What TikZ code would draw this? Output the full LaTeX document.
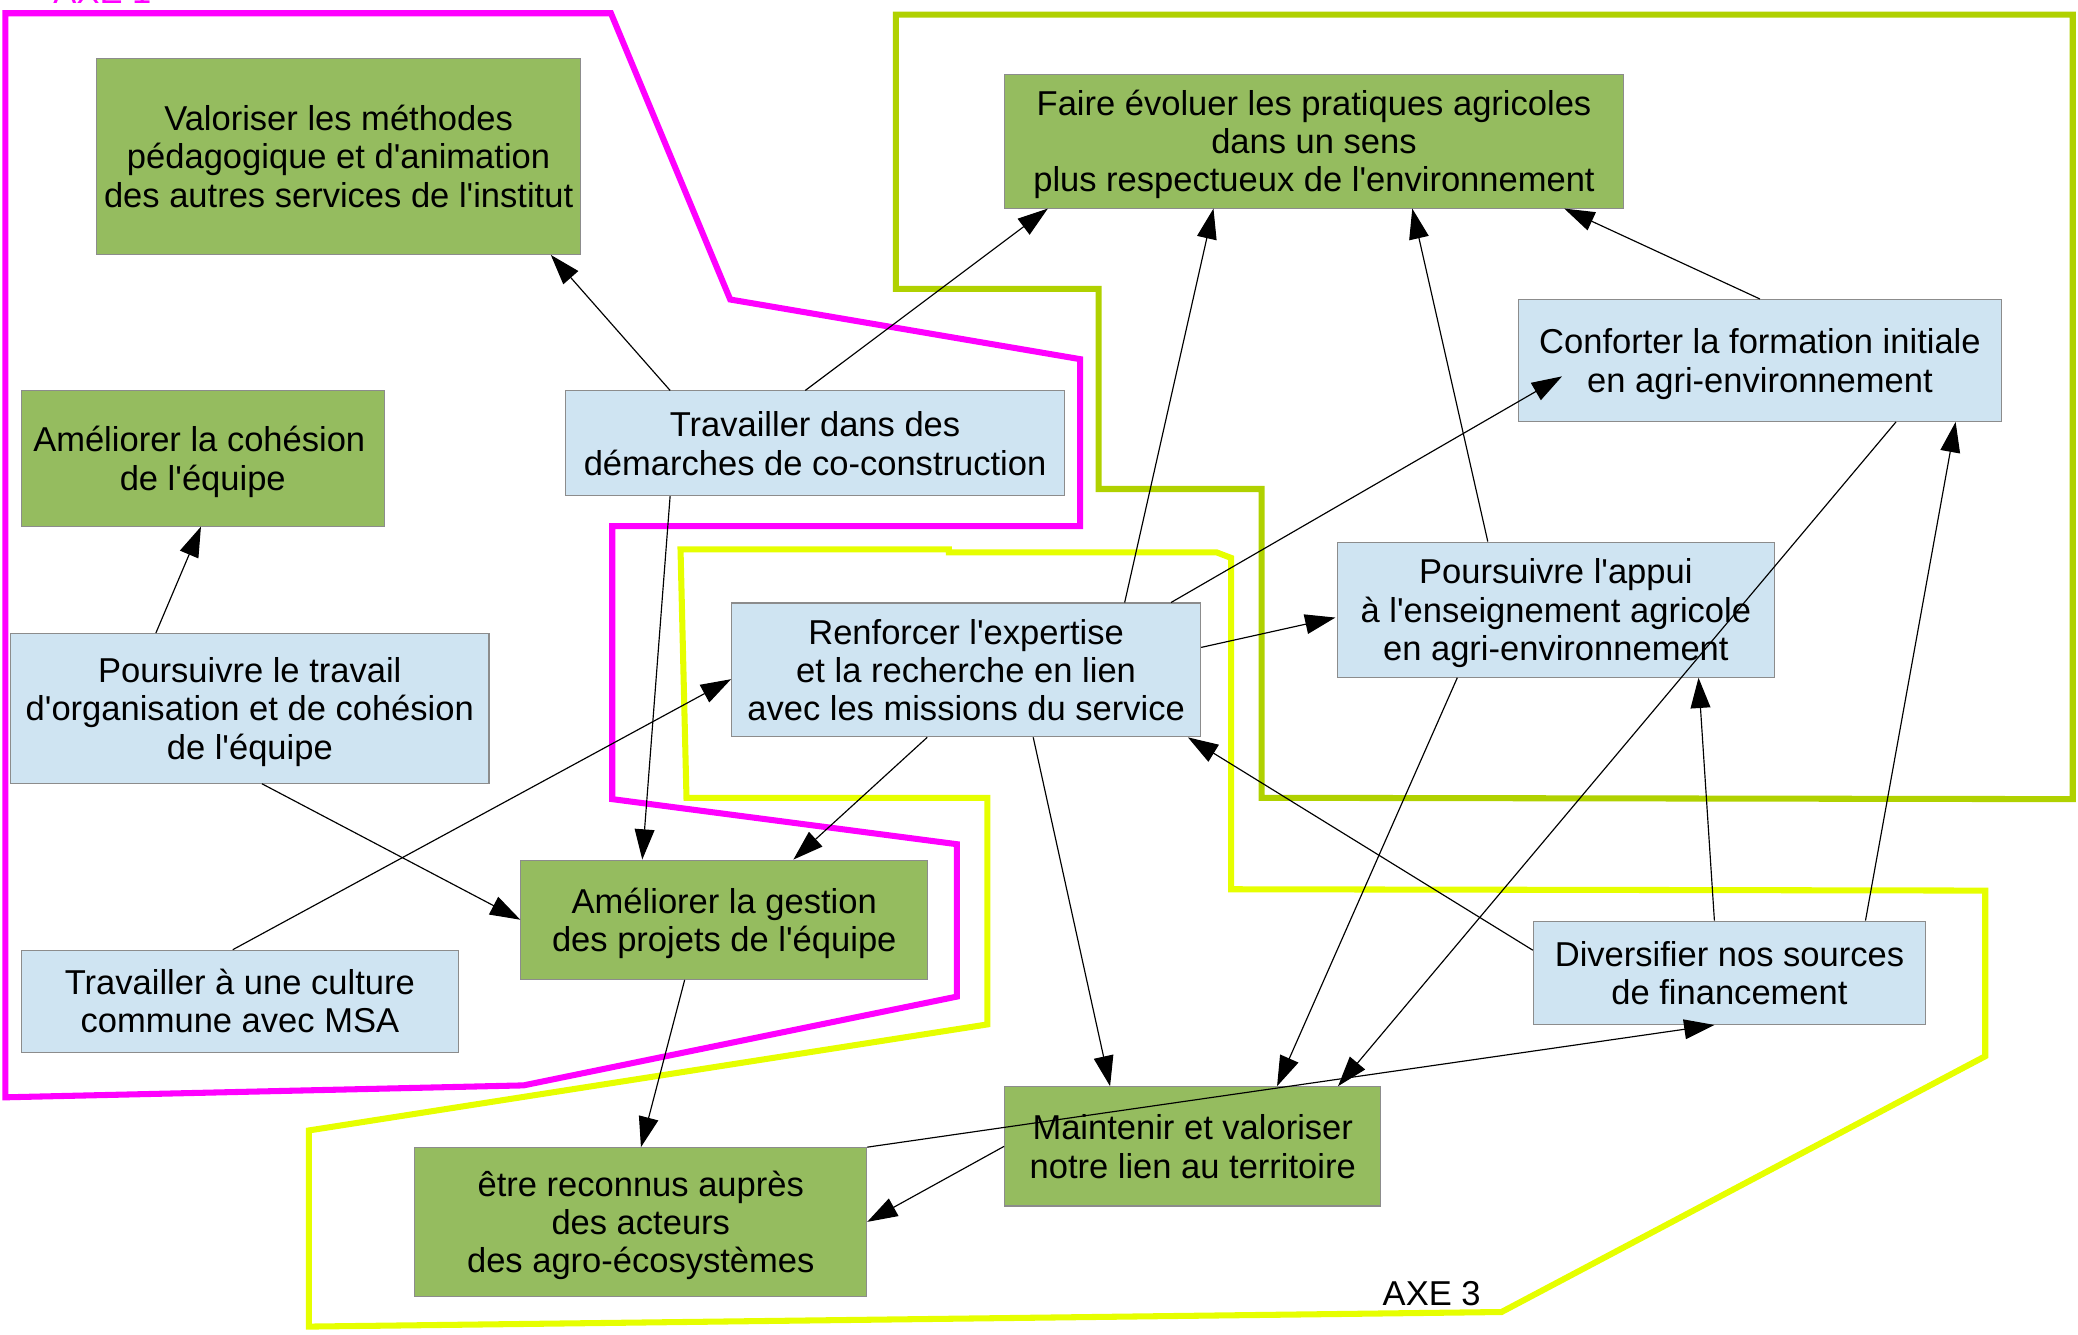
\documentclass[tikz,border=0pt]{standalone}
\usepackage{fontspec}
\newfontfamily\lsans{Liberation Sans}
\usetikzlibrary{arrows.meta,calc}
\definecolor{gfill}{HTML}{95BC5F}
\definecolor{bfill}{HTML}{CFE4F2}
\definecolor{bordergray}{HTML}{8C8C8C}
\definecolor{axeone}{HTML}{FF00FF}
\definecolor{axetwo}{HTML}{B0D100}
\definecolor{axethree}{HTML}{E6FF00}
\begin{document}
\begin{tikzpicture}[x=0.02cm,y=-0.02cm,
  basebox/.style={draw=bordergray, line width=0.45pt, inner sep=0pt, align=center,
    font=\lsans\fontsize{14.83}{16.44}\selectfont, text depth=1.4pt},
  twolines/.style={text height=28.64pt},
  threelines/.style={text height=45.08pt},
  greenbox/.style={basebox, fill=gfill},
  bluebox/.style={basebox, fill=bfill},
  arr/.style={-{Triangle[length=13pt,width=8.5pt]}, line width=0.5pt},
  outline/.style={line width=2.6pt, line join=miter},
  axelabel/.style={inner sep=0pt, anchor=base west, font=\lsans\fontsize{14.83}{16.44}\selectfont}
]
\useasboundingbox (0,0) rectangle (1568,1007);

% AXE outlines
\draw[outline, axeone] (4,828) -- (4,10) -- (461,10) -- (551,226) -- (815,271) -- (815,397) -- (462,397) -- (462,603) -- (722,637) -- (722,752) -- (395,819) -- cycle;
\draw[outline, axetwo] (676,11) -- (1564,11) -- (1564,603) -- (952,602) -- (952,369) -- (829,369) -- (829,218) -- (676,218) -- cycle;
\draw[outline, axethree] (513.5,414.5) -- (716,414.5) -- (716,416.8) -- (918,416.8) -- (929,421) -- (929,671) -- (1498,672) -- (1498,797) -- (1133,990) -- (233,1001) -- (233,853) -- (745,773) -- (745,602) -- (518,602) -- cycle;

\node[axelabel, text=axeone] (axe1) at (40,3) {AXE 1};
\node[axelabel, text=black] (axe3) at (1043,985.4) {AXE 3};

% nodes
\node[greenbox, threelines, minimum width=7.30cm, minimum height=2.96cm] (val) at (255.5,118) {Valoriser les méthodes\\pédagogique et d'animation\\des autres services de l'institut};
\node[greenbox, twolines, minimum width=5.48cm, minimum height=2.04cm] (coh) at (153,346) {Améliorer la cohésion\hspace*{3pt}\\de l'équipe};
\node[bluebox, twolines, minimum width=7.52cm, minimum height=1.58cm] (dem) at (615,334.5) {Travailler dans des\\démarches de co-construction};
\node[bluebox, threelines, minimum width=7.22cm, minimum height=2.26cm] (pou) at (188.5,534.5) {Poursuivre le travail\\d'organisation et de cohésion\\de l'équipe};
\node[bluebox, twolines, minimum width=6.60cm, minimum height=1.54cm] (msa) at (181,755.5) {Travailler à une culture\\commune avec MSA};
\node[greenbox, twolines, minimum width=6.14cm, minimum height=1.80cm] (ges) at (546.5,694) {Améliorer la gestion\\des projets de l'équipe};
\node[bluebox, threelines, minimum width=7.08cm, minimum height=2.02cm] (ren) at (729,505.5) {Renforcer l'expertise\\et la recherche en lien\\avec les missions du service};
\node[greenbox, threelines, minimum width=9.34cm, minimum height=2.02cm] (fai) at (991.5,106.5) {Faire évoluer les pratiques agricoles\\dans un sens\\plus respectueux de l'environnement};
\node[bluebox, twolines, minimum width=7.28cm, minimum height=1.84cm] (con) at (1328,272) {Conforter la formation initiale\\en agri-environnement};
\node[bluebox, threelines, minimum width=6.60cm, minimum height=2.04cm] (app) at (1174,460) {Poursuivre l'appui\\à l'enseignement agricole\\en agri-environnement};
\node[bluebox, twolines, minimum width=5.92cm, minimum height=1.56cm] (div) at (1305,734) {Diversifier nos sources\\de financement};
\node[greenbox, twolines, minimum width=5.68cm, minimum height=1.80cm] (mai) at (900,865) {Maintenir et valoriser\\notre lien au territoire};
\node[greenbox, threelines, minimum width=6.82cm, minimum height=2.24cm] (etr) at (483.5,922) {être reconnus auprès\\des acteurs\\des agro-écosystèmes};

% connectors
\draw[arr] ($(dem.north west)+(79,0)$) -- ($(val.south west)+(343,0)$);
\draw[arr] ($(dem.north west)+(181,0)$) -- ($(fai.south west)+(33,0)$);
\draw[arr] ($(dem.south west)+(79,0)$) -- ($(ges.north west)+(92,0)$);
\draw[arr] ($(pou.north west)+(110,0)$) -- ($(coh.south west)+(136,0)$);
\draw[arr] ($(pou.south west)+(190,0)$) -- (ges.west);
\draw[arr] ($(msa.north west)+(160,0)$) -- ($(ren.west)+(0,7)$);
\draw[arr] ($(ren.south west)+(148,0)$) -- ($(ges.north west)+(206,0)$);
\draw[arr] ($(ren.north west)+(297,0)$) -- ($(fai.south west)+(158,0)$);
\draw[arr] ($(ren.north west)+(332,0)$) -- ($(con.west)+(33,12)$);
\draw[arr] ($(ren.east)+(0,-17)$) -- ($(app.west)+(-1,6)$);
\draw[arr] ($(ren.south west)+(228,0)$) -- ($(mai.north west)+(80,0)$);
\draw[arr] ($(app.north west)+(114,0)$) -- ($(fai.south west)+(308,0)$);
\draw[arr] ($(app.south west)+(91,0)$) -- ($(mai.north west)+(206,0)$);
\draw[arr] (con.north) -- ($(fai.south east)+(-45,0)$);
\draw[arr] ($(con.south west)+(285,0)$) -- ($(mai.north west)+(252,0)$);
\draw[arr] ($(div.west)+(0,-17)$) -- ($(ren.south east)+(-10,0)$);
\draw[arr] ($(div.north west)+(137,0)$) -- ($(app.south west)+(273,0)$);
\draw[arr] ($(div.north west)+(251,0)$) -- ($(con.south west)+(330,0)$);
\draw[arr] (etr.north east) -- ($(div.south west)+(137,0)$);
\draw[arr] (mai.west) -- (etr.east);
\draw[arr] ($(ges.south west)+(124,0)$) -- ($(etr.north west)+(171,0)$);
\end{tikzpicture}
\end{document}
